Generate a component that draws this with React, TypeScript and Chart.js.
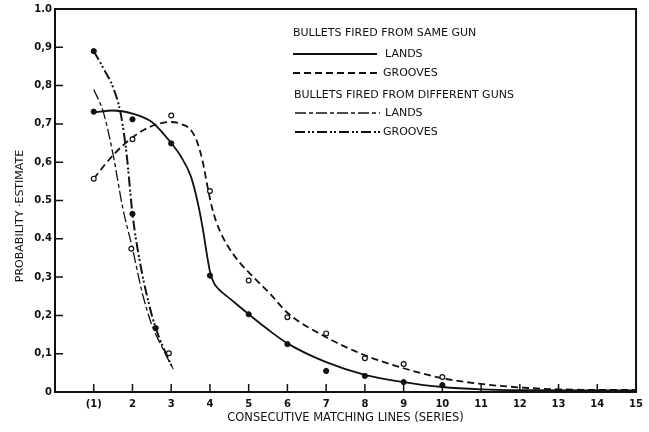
import React, { useEffect, useRef } from "react";
import { Chart, registerables } from "chart.js";

Chart.register(...registerables);

// ---------- data ----------
const X_TICKS = [1, 2, 3, 4, 5, 6, 7, 8, 9, 10, 11, 12, 13, 14, 15];
const X_TICK_LABELS = ["(1)", "2", "3", "4", "5", "6", "7", "8", "9", "10", "11", "12", "13", "14", "15"];
const Y_TICKS = [0, 0.1, 0.2, 0.3, 0.4, 0.5, 0.6, 0.7, 0.8, 0.9, 1.0];
const Y_TICK_LABELS = ["0", "0,1", "0,2", "0,3", "0.4", "0.5", "0,6", "0,7", "0,8", "0,9", "1.0"];

const X_TITLE = "CONSECUTIVE MATCHING LINES (SERIES)";
const Y_TITLE = "PROBABILITY ·ESTIMATE";

const LEGEND_HEAD_SAME = "BULLETS FIRED FROM SAME GUN";
const LEGEND_HEAD_DIFF = "BULLETS FIRED FROM DIFFERENT GUNS";
const LEGEND_LANDS = "LANDS";
const LEGEND_GROOVES = "GROOVES";

// same gun, lands (filled dots)
const SAME_LANDS_X = [1, 2, 3, 4, 5, 6, 7, 8, 9, 10];
const SAME_LANDS_Y = [0.732, 0.712, 0.649, 0.304, 0.203, 0.125, 0.055, 0.042, 0.026, 0.018];
// same gun, grooves (open circles)
const SAME_GROOVES_X = [1, 2, 3, 4, 5, 6, 7, 8, 9, 10];
const SAME_GROOVES_Y = [0.557, 0.66, 0.722, 0.525, 0.291, 0.195, 0.153, 0.088, 0.073, 0.039];
// different guns, lands (open circles)
const DIFF_LANDS_X = [1.97, 2.94];
const DIFF_LANDS_Y = [0.374, 0.101];
// different guns, grooves (filled dots)
const DIFF_GROOVES_X = [1, 2, 2.6];
const DIFF_GROOVES_Y = [0.89, 0.465, 0.167];

// fitted curves
const CURVE_SAME_LANDS_X = [1, 1.5, 2, 2.5, 3, 3.25, 3.5, 3.66, 3.81, 3.92, 4, 4.1, 4.25, 4.5, 5, 5.5, 6, 7, 8, 9, 10, 11, 12, 15];
const CURVE_SAME_LANDS_Y = [0.73, 0.735, 0.727, 0.705, 0.65, 0.615, 0.565, 0.506, 0.43, 0.36, 0.315, 0.285, 0.266, 0.245, 0.203, 0.163, 0.127, 0.078, 0.045, 0.026, 0.013, 0.007, 0.005, 0.004];

const CURVE_SAME_GROOVES_X = [1, 1.4, 1.8, 2.4, 3, 3.25, 3.5, 3.67, 3.81, 3.94, 4.07, 4.25, 4.6, 5.2, 5.55, 6, 7, 8, 9, 10, 11, 12, 13, 15];
const CURVE_SAME_GROOVES_Y = [0.557, 0.607, 0.648, 0.69, 0.705, 0.7, 0.685, 0.653, 0.603, 0.535, 0.475, 0.422, 0.36, 0.292, 0.257, 0.207, 0.143, 0.096, 0.062, 0.036, 0.021, 0.012, 0.007, 0.005];

const CURVE_DIFF_LANDS_X = [1, 1.25, 1.5, 1.75, 2, 2.25, 2.5, 2.75, 3.05];
const CURVE_DIFF_LANDS_Y = [0.79, 0.73, 0.62, 0.48, 0.375, 0.26, 0.175, 0.12, 0.06];

const CURVE_DIFF_GROOVES_X = [1, 1.25, 1.5, 1.7, 1.85, 2, 2.2, 2.45, 2.6, 2.8, 3.05];
const CURVE_DIFF_GROOVES_Y = [0.89, 0.845, 0.795, 0.725, 0.62, 0.465, 0.335, 0.22, 0.167, 0.115, 0.06];

// ---------- style ----------
const INK = "#111111";
const FONT = "'DejaVu Sans', sans-serif";
const DASH_SAME_GROOVES = [7, 4];
const DASH_DIFF_LANDS = [11, 3, 4, 3];
const DASH_DIFF_GROOVES = [10, 3, 2, 2, 2, 3];

const pts = (xs: number[], ys: number[]) => xs.map((x, i) => ({ x, y: ys[i] }));

const decorPlugin = {
  id: "decor",
  afterDraw(chart: any) {
    const { ctx, chartArea: a, scales } = chart;
    const x = scales.x;
    const y = scales.y;
    ctx.save();
    ctx.strokeStyle = INK;
    ctx.fillStyle = INK;
    ctx.setLineDash([]);
    // frame
    ctx.lineWidth = 2;
    ctx.strokeRect(a.left, a.top, a.right - a.left, a.bottom - a.top);
    // inner tick marks
    ctx.lineWidth = 1.5;
    ctx.beginPath();
    X_TICKS.forEach((v) => {
      const px = x.getPixelForValue(v);
      ctx.moveTo(px, a.bottom);
      ctx.lineTo(px, a.bottom - 8);
    });
    Y_TICKS.forEach((v) => {
      if (v <= 0 || v >= 1) return;
      const py = y.getPixelForValue(v);
      ctx.moveTo(a.left, py);
      ctx.lineTo(a.left + 8, py);
    });
    ctx.stroke();

    // y title
    ctx.save();
    ctx.font = `11px ${FONT}`;
    ctx.textAlign = "center";
    ctx.textBaseline = "middle";
    ctx.translate(20, 216);
    ctx.rotate(-Math.PI / 2);
    ctx.fillText(Y_TITLE, 0, 0);
    ctx.restore();

    // legend
    const line = (x0: number, x1: number, yy: number, dash: number[], w: number) => {
      ctx.save();
      ctx.lineWidth = w;
      ctx.setLineDash(dash);
      ctx.beginPath();
      ctx.moveTo(x0, yy);
      ctx.lineTo(x1, yy);
      ctx.stroke();
      ctx.restore();
    };
    ctx.font = `11px ${FONT}`;
    ctx.textAlign = "left";
    ctx.textBaseline = "middle";
    ctx.fillText(LEGEND_HEAD_SAME, 293, 33);
    line(293, 377, 54, [], 1.8);
    ctx.fillText(LEGEND_LANDS, 385, 54);
    line(293, 380, 73, DASH_SAME_GROOVES, 1.8);
    ctx.fillText(LEGEND_GROOVES, 383, 73);
    ctx.fillText(LEGEND_HEAD_DIFF, 294, 95);
    line(295, 380, 113, DASH_DIFF_LANDS, 1.3);
    ctx.fillText(LEGEND_LANDS, 385, 113);
    line(295, 380, 132, DASH_DIFF_GROOVES, 2);
    ctx.fillText(LEGEND_GROOVES, 383, 132);
    ctx.restore();
  },
};

export default function App() {
  const ref = useRef<HTMLCanvasElement | null>(null);

  useEffect(() => {
    document.body.style.margin = "0";
    const canvas = ref.current;
    if (!canvas) return;

    const markerFilled = (data: any[]) => ({
      data,
      showLine: false,
      pointRadius: 2.6,
      pointBackgroundColor: INK,
      pointBorderColor: INK,
      pointBorderWidth: 1,
    });
    const markerOpen = (data: any[]) => ({
      data,
      showLine: false,
      pointRadius: 2.4,
      pointBackgroundColor: "#ffffff",
      pointBorderColor: INK,
      pointBorderWidth: 1.2,
    });
    const curve = (data: any[], dash: number[], w: number) => ({
      data,
      showLine: true,
      pointRadius: 0,
      borderColor: INK,
      borderWidth: w,
      borderDash: dash,
      cubicInterpolationMode: "monotone",
      fill: false,
    });

    const chart = new Chart(canvas, {
      type: "scatter",
      data: {
        datasets: [
          markerFilled(pts(SAME_LANDS_X, SAME_LANDS_Y)),
          markerOpen(pts(SAME_GROOVES_X, SAME_GROOVES_Y)),
          markerOpen(pts(DIFF_LANDS_X, DIFF_LANDS_Y)),
          markerFilled(pts(DIFF_GROOVES_X, DIFF_GROOVES_Y)),
          curve(pts(CURVE_SAME_LANDS_X, CURVE_SAME_LANDS_Y), [], 1.8),
          curve(pts(CURVE_SAME_GROOVES_X, CURVE_SAME_GROOVES_Y), DASH_SAME_GROOVES, 1.8),
          curve(pts(CURVE_DIFF_LANDS_X, CURVE_DIFF_LANDS_Y), DASH_DIFF_LANDS, 1.3),
          curve(pts(CURVE_DIFF_GROOVES_X, CURVE_DIFF_GROOVES_Y), DASH_DIFF_GROOVES, 2),
        ] as any,
      },
      options: {
        animation: false,
        responsive: false,
        devicePixelRatio: 1,
        events: [],
        layout: { padding: { top: 8, right: 12, left: 0, bottom: 0 } },
        plugins: { legend: { display: false }, tooltip: { enabled: false }, title: { display: false } },
        scales: {
          x: {
            type: "linear",
            min: 0,
            max: 15,
            grid: { display: false, drawTicks: false },
            border: { display: false },
            afterBuildTicks: (s: any) => {
              s.ticks = X_TICKS.map((v) => ({ value: v }));
            },
            afterFit: (s: any) => {
              s.height = 40;
            },
            ticks: {
              autoSkip: false,
              maxRotation: 0,
              padding: 6,
              color: INK,
              font: { family: FONT, size: 10, weight: "bold" },
              callback: (v: any) => {
                const i = X_TICKS.indexOf(Number(v));
                return i >= 0 ? X_TICK_LABELS[i] : "";
              },
            },
            title: {
              display: true,
              text: X_TITLE,
              color: INK,
              font: { family: FONT, size: 11.5 },
              padding: { top: 0, bottom: 7 },
            },
          },
          y: {
            type: "linear",
            min: 0,
            max: 1,
            grid: { display: false, drawTicks: false },
            border: { display: false },
            afterBuildTicks: (s: any) => {
              s.ticks = Y_TICKS.map((v) => ({ value: v }));
            },
            afterFit: (s: any) => {
              s.width = 55;
            },
            ticks: {
              autoSkip: false,
              padding: 3,
              color: INK,
              font: { family: FONT, size: 10, weight: "bold" },
              callback: (v: any) => {
                const i = Y_TICKS.findIndex((t) => Math.abs(t - Number(v)) < 1e-6);
                return i >= 0 ? Y_TICK_LABELS[i] : "";
              },
            },
          },
        },
      } as any,
      plugins: [decorPlugin],
    });

    return () => chart.destroy();
  }, []);

  return (
    <div style={{ width: 649, height: 432, background: "#ffffff" }}>
      <canvas ref={ref} width={649} height={432} style={{ display: "block" }} />
    </div>
  );
}
